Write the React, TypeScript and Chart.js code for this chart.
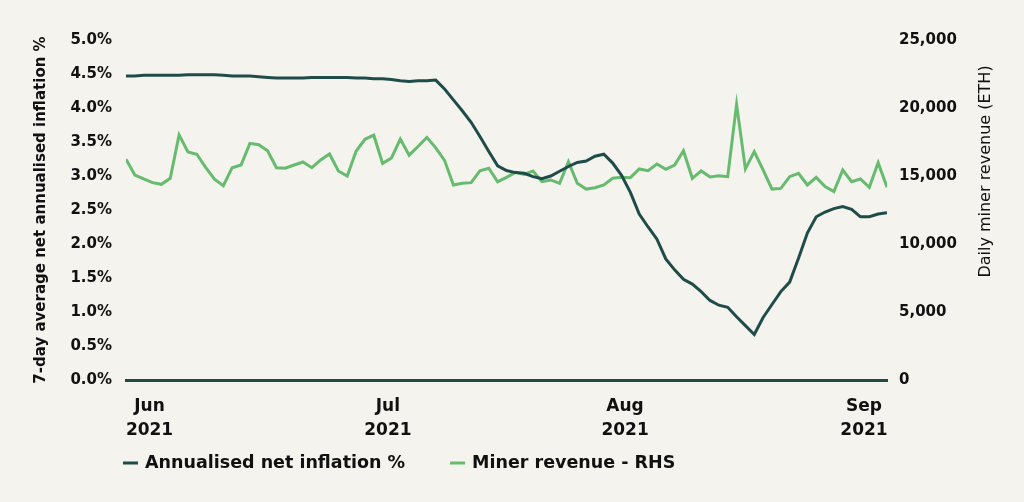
import React, { useEffect, useRef } from "react";
import { Chart, registerables } from "chart.js";

Chart.register(...registerables);

// ---- Data ----
const inflation = [
  4.47, 4.47, 4.48, 4.48, 4.48, 4.48, 4.48, 4.49, 4.49, 4.49,
  4.49, 4.48, 4.47, 4.47, 4.47, 4.46, 4.45, 4.44, 4.44, 4.44,
  4.44, 4.45, 4.45, 4.45, 4.45, 4.45, 4.44, 4.44, 4.43, 4.43,
  4.42, 4.40, 4.39, 4.40, 4.40, 4.41, 4.28, 4.12, 3.96, 3.79,
  3.58, 3.36, 3.15, 3.08, 3.05, 3.04, 2.99, 2.96, 3.00, 3.07,
  3.14, 3.20, 3.22, 3.29, 3.32, 3.19, 3.01, 2.76, 2.44, 2.25,
  2.07, 1.78, 1.62, 1.48, 1.41, 1.30, 1.17, 1.10, 1.07, 0.93,
  0.80, 0.67, 0.92, 1.11, 1.30, 1.44, 1.79, 2.16, 2.40, 2.47,
  2.52, 2.55, 2.51, 2.40, 2.40, 2.44, 2.46,
];

const minerRevenue = [
  16230, 15070, 14780, 14510, 14390, 14830, 18020, 16770, 16600, 15640,
  14760, 14290, 15610, 15810, 17400, 17300, 16860, 15610, 15570, 15810,
  16030, 15610, 16180, 16620, 15370, 15000, 16820, 17700, 18000, 15930,
  16330, 17710, 16530, 17170, 17840, 17070, 16150, 14340, 14460, 14510,
  15390, 15570, 14580, 14900, 15270, 15120, 15370, 14580, 14710, 14460,
  16050, 14460, 14040, 14140, 14340, 14830, 14900, 14880, 15520, 15390,
  15880, 15490, 15810, 16860, 14830, 15370, 14930, 15020, 14950, 20270,
  15520, 16790, 15440, 14040, 14090, 14950, 15200, 14340, 14900, 14220,
  13850, 15440, 14580, 14780, 14170, 15980, 14170,
];

const monthTickAt = [2.66, 29.6, 56.4, 83.4];
const monthLabels = ["Jun", "Jul", "Aug", "Sep"];
const yearLabels = ["2021", "2021", "2021", "2021"];

const seriesNames = ["Annualised net inflation %", "Miner revenue - RHS"];
const leftTitle = "7-day average net annualised inflation %";
const rightTitle = "Daily miner revenue (ETH)";

// ---- Styles ----
const BG = "#f4f3ee";
const DARK = "#1f4c49";
const GREEN = "#66bb6e";
const TEXT = "#111111";
const FONT = "'DejaVu Sans', sans-serif";

const extrasPlugin = {
  id: "extras",
  afterDraw(chart: any) {
    const ctx: CanvasRenderingContext2D = chart.ctx;
    // right axis title (reads bottom-to-top)
    ctx.save();
    ctx.font = `16px ${FONT}`;
    ctx.fillStyle = TEXT;
    ctx.translate(986, 171.5);
    ctx.rotate(-Math.PI / 2);
    ctx.textAlign = "center";
    ctx.textBaseline = "middle";
    ctx.fillText(rightTitle, 0, 0);
    ctx.restore();

    // legend
    ctx.save();
    ctx.font = `bold 17.5px ${FONT}`;
    ctx.textAlign = "left";
    ctx.textBaseline = "middle";
    let x = chart.chartArea.left - 3;
    const y = 463;
    chart.data.datasets.forEach((ds: any) => {
      ctx.fillStyle = ds.borderColor;
      ctx.fillRect(x, y - 1.5, 15, 3);
      ctx.fillStyle = TEXT;
      ctx.fillText(ds.label, x + 22, y);
      x += 22 + ctx.measureText(ds.label).width + 45;
    });
    ctx.restore();
  },
};

export default function App() {
  const canvasRef = useRef<HTMLCanvasElement | null>(null);

  useEffect(() => {
    document.body.style.margin = "0";
    document.body.style.background = BG;
    const canvas = canvasRef.current;
    if (!canvas) return;

    const chart = new Chart(canvas, {
      type: "line",
      data: {
        datasets: [
          {
            label: seriesNames[0],
            data: inflation.map((v, i) => ({ x: i, y: v })),
            borderColor: DARK,
            backgroundColor: DARK,
            borderWidth: 3,
            pointRadius: 0,
            tension: 0,
            yAxisID: "y",
          },
          {
            label: seriesNames[1],
            data: minerRevenue.map((v, i) => ({ x: i, y: v })),
            borderColor: GREEN,
            backgroundColor: GREEN,
            borderWidth: 3,
            pointRadius: 0,
            tension: 0,
            yAxisID: "y1",
          },
        ],
      },
      options: {
        animation: false,
        responsive: true,
        maintainAspectRatio: false,
        layout: { padding: { top: 40, left: 0, right: 0, bottom: 0 } },
        plugins: {
          legend: { display: false },
          tooltip: { enabled: false },
        },
        scales: {
          x: {
            type: "linear",
            min: 0,
            max: inflation.length - 1,
            grid: { display: false, drawTicks: false },
            border: { display: true, color: DARK, width: 3 },
            afterBuildTicks: (scale: any) => {
              scale.ticks = monthTickAt.map((v) => ({ value: v }));
            },
            afterFit: (scale: any) => {
              scale.height = 122;
            },
            ticks: {
              autoSkip: false,
              maxRotation: 0,
              padding: 15,
              color: TEXT,
              font: { family: FONT, size: 17, weight: "bold", lineHeight: 1.4 },
              callback: (_v: any, index: number) => [monthLabels[index], yearLabels[index]],
            },
          },
          y: {
            position: "left",
            min: 0,
            max: 5,
            grid: { display: false, drawTicks: false },
            border: { display: false },
            afterFit: (scale: any) => {
              scale.width = 126;
            },
            ticks: {
              stepSize: 0.5,
              padding: 14,
              color: TEXT,
              font: { family: FONT, size: 15, weight: "bold" },
              callback: (v: any) => Number(v).toFixed(1) + "%",
            },
            title: {
              display: true,
              text: leftTitle,
              color: TEXT,
              padding: { top: 32, bottom: 0 },
              font: { family: FONT, size: 15, weight: "bold" },
            },
          },
          y1: {
            position: "right",
            min: 0,
            max: 25000,
            grid: { display: false, drawTicks: false },
            border: { display: false },
            afterFit: (scale: any) => {
              scale.width = 137;
            },
            ticks: {
              stepSize: 5000,
              padding: 12,
              color: TEXT,
              font: { family: FONT, size: 15, weight: "bold" },
              callback: (v: any) => Number(v).toLocaleString("en-US"),
            },
          },
        },
      },
      plugins: [extrasPlugin],
    });

    return () => chart.destroy();
  }, []);

  return (
    <div
      style={{
        position: "absolute",
        left: 0,
        top: 0,
        width: 1024,
        height: 502,
        background: BG,
      }}
    >
      <canvas ref={canvasRef} />
    </div>
  );
}
